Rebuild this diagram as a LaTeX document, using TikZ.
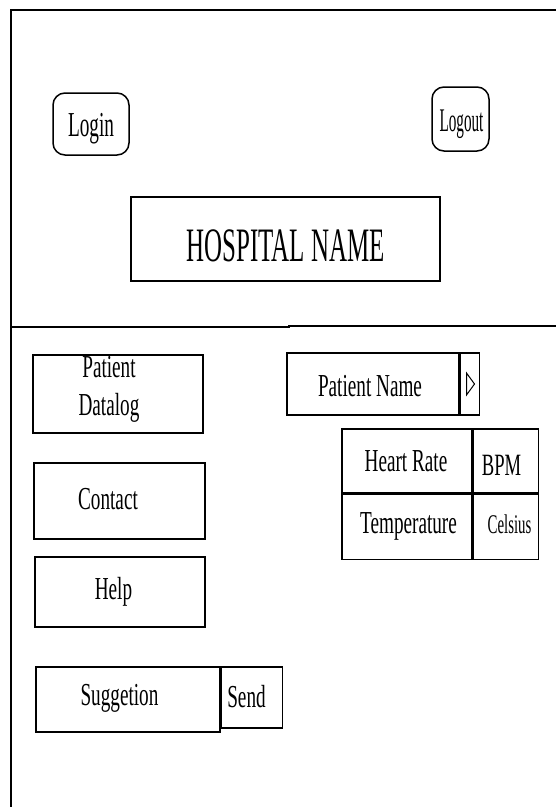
\documentclass[tikz,border=0pt]{standalone}
\usepackage{fontspec}
\setmainfont{Liberation Serif}
\usetikzlibrary{calc}
\newcommand{\sqz}{0.6}
% #1 = x offset, #2 = raise, #3 = text (squeezed like the screenshot)
\newcommand{\lbl}[3]{\raisebox{#2}[0pt][0pt]{\hspace*{#1}\scalebox{\sqz}[1]{#3}\hspace*{-#1}}}
\tikzset{
  box/.style={draw, line width=1.5pt, inner sep=0pt, font=\fontsize{32}{38}\selectfont},
  btn/.style={box, rounded corners=12pt},
  frame/.style={line width=2pt},
}

\begin{document}
\begin{tikzpicture}[x=1pt, y=-1pt]
  \useasboundingbox (0,0) rectangle (556,807);
  % page frame and header divider
  \coordinate (tr) at (556,10);
  \coordinate (tl) at (11,10);
  \coordinate (bl) at (11,807);
  \coordinate (dl) at (11,327);
  \coordinate (dm) at (289,327);
  \coordinate (dr) at (556,326);
  \draw[frame] (tr) -- (tl) -- (bl);
  \draw[frame] (dl) -- (dm) |- (dr);
  % header
  \node[btn, minimum width=76pt, minimum height=62pt, font=\fontsize{35}{42}\selectfont\def\sqz{0.55}] (login) at (91,124) {\lbl{0pt}{-12.6pt}{Login}};
  \node[btn, minimum width=57pt, minimum height=64pt, font=\fontsize{33}{40}\selectfont\def\sqz{0.46}] (logout) at (460.5,119) {\lbl{1pt}{-12.4pt}{Logout}};
  \node[box, minimum width=309pt, minimum height=84pt, font=\fontsize{48}{56}\selectfont\def\sqz{0.52}] (hosp) at (285.5,239) {\lbl{0pt}{-22pt}{HOSPITAL NAME}};
  % menu
  \node[box, minimum width=170pt, minimum height=78pt] (datalog) at (118,394) {\lbl{-9pt}{-1pt}{\begin{tabular}{@{}c@{}}Patient\\Datalog\end{tabular}}};
  \node[box, minimum width=171pt, minimum height=76pt] (contact) at (119.5,501) {\lbl{-11.5pt}{-8pt}{Contact}};
  \node[box, minimum width=170pt, minimum height=70pt] (help) at (120,592) {\lbl{-6.5pt}{-7.5pt}{Help}};
  \node[box, minimum width=184pt, minimum height=65pt] (sugg) at (128,699.5) {\lbl{-8.5pt}{-6pt}{Suggetion}};
  \node[box, minimum width=61pt, minimum height=61pt, anchor=north west] (send) at (sugg.north east) {\lbl{-5.5pt}{-10pt}{Send}};
  % patient select
  \node[box, minimum width=172pt, minimum height=62pt] (pname) at (373,384) {\lbl{-3pt}{-12.5pt}{Patient Name}};
  \node[box, minimum width=19pt, minimum height=62pt, anchor=north west] (drop) at (pname.north east) {};
  \draw[line width=1pt] ([xshift=-3.5pt,yshift=11pt]drop.center) -- ([xshift=4.5pt]drop.center)
                        -- ([xshift=-3.5pt,yshift=-11pt]drop.center) -- cycle;
  % readings
  \node[box, minimum width=130pt, minimum height=64pt] (heart) at (407,461) {\lbl{-1pt}{-10.5pt}{Heart Rate}};
  \node[box, minimum width=65pt, minimum height=64pt, anchor=north west, font=\fontsize{31}{37}\selectfont] (bpm) at (heart.north east) {\lbl{-4.5pt}{-14.3pt}{BPM}};
  \node[box, minimum width=130pt, minimum height=65pt, anchor=north west] (temp) at (heart.south west) {\lbl{1.5pt}{-6.5pt}{Temperature}};
  \node[box, minimum width=65pt, minimum height=65pt, anchor=north west, font=\fontsize{27}{32}\selectfont\def\sqz{0.55}] (celsius) at (heart.south east) {\lbl{3.5pt}{-6.5pt}{Celsius}};
\end{tikzpicture}
\end{document}
